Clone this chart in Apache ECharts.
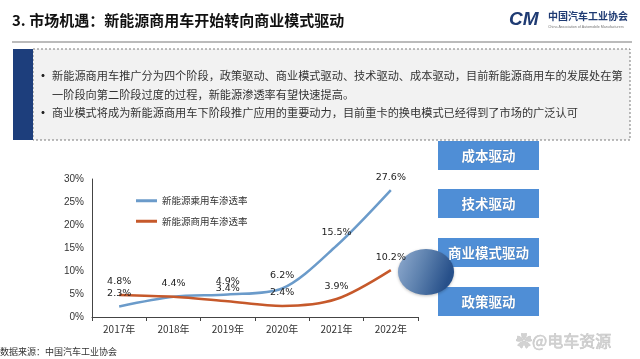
<!DOCTYPE html>
<html>
<head>
<meta charset="utf-8">
<script src="https://cdn.jsdelivr.net/npm/echarts@6/dist/echarts.min.js"></script>
<style>
html,body{margin:0;padding:0;background:#fff;}
#main{width:640px;height:359px;}
</style>
</head>
<body>
<div id="main"></div>
<script>
const categories = ['2017年', '2018年', '2019年', '2020年', '2021年', '2022年'];
const passengerRate = [2.3, 4.4, 4.9, 6.2, 15.5, 27.6];
const commercialRate = [4.8, 4.4, 3.4, 2.4, 3.9, 10.2];
const seriesNames = ['新能源乘用车渗透率', '新能源商用车渗透率'];
const yMin = 0, yMax = 30, yStep = 5;
const driverBoxes = ['成本驱动', '技术驱动', '商业模式驱动', '政策驱动'];
const titleText = '3. 市场机遇：新能源商用车开始转向商业模式驱动';
const bulletLines = [
  '新能源商用车推广分为四个阶段，政策驱动、商业模式驱动、技术驱动、成本驱动，目前新能源商用车的发展处在第',
  '一阶段向第二阶段过度的过程，新能源渗透率有望快速提高。',
  '商业模式将成为新能源商用车下阶段推广应用的重要动力，目前重卡的换电模式已经得到了市场的广泛认可'
];
const sourceText = '数据来源：中国汽车工业协会';

const CJK = '"Noto Sans CJK SC", "Noto Sans", sans-serif';
const chart = echarts.init(document.getElementById('main'), null, {renderer: 'canvas'});

const boxTops = [141, 189, 238, 287];
const graphics = [];
// title
graphics.push({type: 'text', left: 12, top: 13, style: {text: titleText, font: 'bold 15px ' + CJK, fill: '#111'}});
// logo
graphics.push({type: 'text', left: 509, top: 10, style: {text: 'CM', font: 'italic bold 19px "Liberation Sans", sans-serif', fill: '#1f3b73'}});
graphics.push({type: 'text', left: 548, top: 11, style: {text: '中国汽车工业协会', font: 'bold 10px ' + CJK, fill: '#1f3b73'}});
graphics.push({type: 'text', left: 548, top: 25, style: {text: 'China Association of Automobile Manufacturers', font: '3.6px "Liberation Sans", sans-serif', fill: '#777'}});
// title rule
graphics.push({type: 'line', shape: {x1: 12, y1: 42, x2: 632, y2: 42}, style: {stroke: '#a5a5a5', lineWidth: 1.5}});
// gray box
graphics.push({type: 'rect', shape: {x: 33, y: 49, width: 597, height: 91}, style: {fill: '#f2f2f2', stroke: '#7a7a7a', lineWidth: 1, lineDash: [2, 2]}});
graphics.push({type: 'rect', shape: {x: 13, y: 49, width: 20, height: 91}, style: {fill: '#1d3e7c'}});
// bullets
const bulletY = [76, 95, 113];
bulletLines.forEach((t, i) => {
  graphics.push({type: 'text', x: 52, y: bulletY[i], style: {text: t, font: '11.2px ' + CJK, fill: '#333', verticalAlign: 'middle'}});
});
[76, 113].forEach(y => {
  graphics.push({type: 'text', x: 37, y: y, style: {text: '•', font: 'bold 12px ' + CJK, fill: '#222', verticalAlign: 'middle'}});
});
// driver boxes
driverBoxes.forEach((t, i) => {
  graphics.push({type: 'rect', shape: {x: 438, y: boxTops[i], width: 101, height: 29}, style: {fill: '#4f8ed6'}, z: 0});
});
// ellipse
graphics.push({
  type: 'circle', x: 426, y: 272, scaleX: 1.22, scaleY: 1, shape: {cx: 0, cy: 0, r: 23}, z: 1,
  style: {
    fill: {type: 'linear', x: 0, y: 0, x2: 1, y2: 0.3, colorStops: [
      {offset: 0, color: '#90abcf'}, {offset: 0.5, color: '#5d81ae'}, {offset: 1, color: '#27508a'}
    ]},
    shadowBlur: 3, shadowColor: 'rgba(0,0,0,0.25)', shadowOffsetY: 1
  }
});
driverBoxes.forEach((t, i) => {
  graphics.push({type: 'text', x: 488.5, y: boxTops[i] + 14.5, z: 12,
    style: {text: t, font: 'bold 13.5px ' + CJK, fill: '#fff', align: 'center', verticalAlign: 'middle',
      textShadowBlur: 1, textShadowColor: 'rgba(0,0,0,0.3)', textShadowOffsetY: 0.5}});
});
// source
graphics.push({type: 'text', x: 0, y: 352, style: {text: sourceText, font: '9px ' + CJK, fill: '#333', verticalAlign: 'middle'}});
// watermark
graphics.push({type: 'text', x: 516, y: 341, z: 20, style: {text: '✿@电车资源', font: '16px ' + CJK, fill: 'rgba(205,205,205,0.9)', stroke: 'rgba(150,150,150,0.6)', lineWidth: 0.6, verticalAlign: 'middle'}});

const labelCfg = {show: true, position: 'top', distance: 8, formatter: '{c}%', color: '#222', fontSize: 9.5, fontFamily: '"DejaVu Sans", sans-serif'};
// hide duplicate label where both series share the same value
const commercialData = commercialRate.map((v, i) => (v === passengerRate[i] ? {value: v, label: {show: false}} : v));
const option = {
  backgroundColor: '#fff',
  animation: false,
  grid: {left: 92, right: 222, top: 179, bottom: 42, containLabel: false},
  legend: {
    orient: 'vertical', left: 131, top: 191, itemGap: 11, itemWidth: 21, itemHeight: 3,
    icon: 'rect', data: seriesNames,
    textStyle: {fontFamily: CJK, fontSize: 9.5, color: '#333'}
  },
  xAxis: {
    type: 'category', data: categories, boundaryGap: true,
    axisLine: {lineStyle: {color: '#444', width: 1}},
    axisTick: {show: true, length: 4, lineStyle: {color: '#444'}},
    axisLabel: {color: '#333', fontSize: 10, margin: 7, fontFamily: CJK}
  },
  yAxis: {
    type: 'value', min: yMin, max: yMax, interval: yStep,
    axisLine: {show: true, lineStyle: {color: '#444', width: 1}},
    axisTick: {show: false},
    splitLine: {show: false},
    axisLabel: {color: '#333', fontSize: 10, margin: 8, formatter: '{value}%', fontFamily: '"Liberation Sans", sans-serif'}
  },
  series: [
    {
      name: seriesNames[0], type: 'line', data: passengerRate, smooth: 0.3, z: 5,
      symbol: 'circle', symbolSize: 0.01, showSymbol: true,
      lineStyle: {color: '#6b9bca', width: 2.5}, itemStyle: {color: '#6b9bca'},
      label: labelCfg
    },
    {
      name: seriesNames[1], type: 'line', data: commercialData, smooth: 0.3, z: 5,
      symbol: 'circle', symbolSize: 0.01, showSymbol: true,
      lineStyle: {color: '#c6592b', width: 2.5}, itemStyle: {color: '#c6592b'},
      label: labelCfg
    }
  ],
  graphic: graphics
};
chart.setOption(option);
</script>
</body>
</html>
